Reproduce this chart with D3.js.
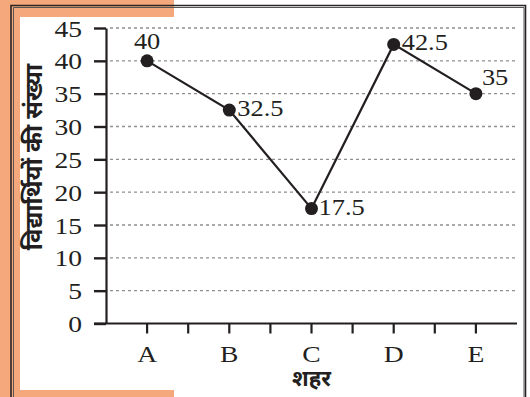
<!DOCTYPE html>
<html>
<head>
<meta charset="utf-8">
<script src="https://cdn.jsdelivr.net/npm/d3@7"></script>
<style>
  html, body { margin: 0; padding: 0; background: #fff; }
  svg { display: block; }
</style>
</head>
<body>
<svg id="chart" width="530" height="397"></svg>
<script>
// Number of students per city
const cities = ["A", "B", "C", "D", "E"];
const students = [40, 32.5, 17.5, 42.5, 35];
const yTicks = [0, 5, 10, 15, 20, 25, 30, 35, 40, 45];
const yTitle = "विद्यार्थियों की संख्या";
const xTitle = "शहर";

const svg = d3.select("#chart");
const ink = "#231f20";
const orange = "#f5a87b";
const serif = "'Liberation Serif', 'Times New Roman', serif";
const deva = "'Noto Sans Devanagari', 'Noto Serif Devanagari', 'Lohit Devanagari', 'Noto Sans', sans-serif";
const fs = 24;

// Wide serif text: a horizontal stretch gives the broad Times look
function wide(sel, k) {
  sel.each(function () {
    const t = d3.select(this);
    const tx = +t.attr("x") || 0, ty = +t.attr("y") || 0;
    t.attr("transform", `translate(${tx},${ty}) scale(${k},1) translate(${-tx},${-ty})`);
  });
}

// Frame: orange corner bands and a double rule
svg.append("rect").attr("x", 0).attr("y", 0).attr("width", 20).attr("height", 397).attr("fill", orange);
svg.append("rect").attr("x", 0).attr("y", 0).attr("width", 174).attr("height", 17).attr("fill", orange);
svg.append("rect").attr("x", 20).attr("y", 390).attr("width", 154).attr("height", 7).attr("fill", orange);

[[11, 5.5], [13.5, 7.5]].forEach(([x, y], i) => {
  svg.append("path")
    .attr("d", `M${x},400 V${y} H${525.5 - i * 1.5} V400`)
    .attr("fill", "none")
    .attr("stroke", i === 0 ? "#2a2424" : "#555")
    .attr("stroke-width", i === 0 ? 1.6 : 1);
});

const x = d3.scaleBand().domain(cities).range([106, 517]).padding(0);
const y = d3.scaleLinear().domain([0, 45]).range([323.5, 28]);
const cx = d => x(d) + x.bandwidth() / 2;

// Dotted gridlines
svg.append("g").selectAll("line")
  .data(yTicks.filter(t => t > 0))
  .join("line")
  .attr("x1", 110).attr("x2", 516)
  .attr("y1", d => y(d)).attr("y2", d => y(d))
  .attr("stroke", "#8f8f8f").attr("stroke-width", 1.3)
  .attr("stroke-dasharray", "3,3");

// Y axis
const yAxis = svg.append("g").attr("transform", "translate(106,0)")
  .call(d3.axisLeft(y).tickValues(yTicks).tickSize(12).tickSizeOuter(0).tickPadding(12));
yAxis.select(".domain").attr("stroke", ink).attr("stroke-width", 2.2);
yAxis.selectAll(".tick line").attr("stroke", ink).attr("stroke-width", 2.4);
yAxis.selectAll("text").attr("fill", ink).style("font-family", serif).style("font-size", fs + "px")
  .attr("x", -24).attr("dy", "0.34em")
  .call(wide, 1.15);

// X axis: ticks at category centres plus in-between marks
const xAxis = svg.append("g").attr("transform", "translate(0,323.5)");
xAxis.append("line").attr("x1", 94).attr("x2", 517).attr("y1", 0).attr("y2", 0)
  .attr("stroke", ink).attr("stroke-width", 2.2);
const midTicks = cities.slice(1).map(c => x(c));
xAxis.selectAll("line.t")
  .data(cities.map(cx).concat(midTicks))
  .join("line").attr("class", "t")
  .attr("x1", d => d).attr("x2", d => d).attr("y1", 0).attr("y2", 10)
  .attr("stroke", ink).attr("stroke-width", 2.2);
xAxis.selectAll("text.c")
  .data(cities)
  .join("text").attr("class", "c")
  .attr("x", d => cx(d)).attr("y", 38.5)
  .attr("text-anchor", "middle")
  .attr("fill", ink)
  .style("font-family", serif).style("font-size", fs + "px")
  .text(d => d)
  .call(wide, 1.15);

// Axis titles
svg.append("text")
  .attr("x", x("C") + x.bandwidth() / 2).attr("y", 386)
  .attr("text-anchor", "middle").attr("fill", ink)
  .style("font-family", deva).style("font-size", "22px").style("font-weight", "bold")
  .text(xTitle);
svg.append("text")
  .attr("transform", "translate(42,157) rotate(-90)")
  .attr("text-anchor", "middle").attr("fill", ink)
  .style("font-family", deva).style("font-size", "24px").style("font-weight", "bold")
  .text(yTitle);

// Line and points
const pts = cities.map((c, i) => ({ c, v: students[i] }));
svg.append("path")
  .datum(pts)
  .attr("d", d3.line().x(d => cx(d.c)).y(d => y(d.v)))
  .attr("fill", "none").attr("stroke", ink).attr("stroke-width", 2.2);
svg.append("g").selectAll("circle")
  .data(pts).join("circle")
  .attr("cx", d => cx(d.c)).attr("cy", d => y(d.v)).attr("r", 6.5)
  .attr("fill", ink);

// Value labels
const labelPos = { A: [0, -12, "middle"], B: [8, 6, "start"], C: [7, 6, "start"], D: [8, 6, "start"], E: [6, -9, "start"] };
svg.append("g").selectAll("text")
  .data(pts).join("text")
  .attr("x", d => cx(d.c) + labelPos[d.c][0])
  .attr("y", d => y(d.v) + labelPos[d.c][1])
  .attr("text-anchor", d => labelPos[d.c][2])
  .attr("fill", ink)
  .style("font-family", serif).style("font-size", fs + "px")
  .text(d => d.v)
  .call(wide, 1.1);
</script>
</body>
</html>
